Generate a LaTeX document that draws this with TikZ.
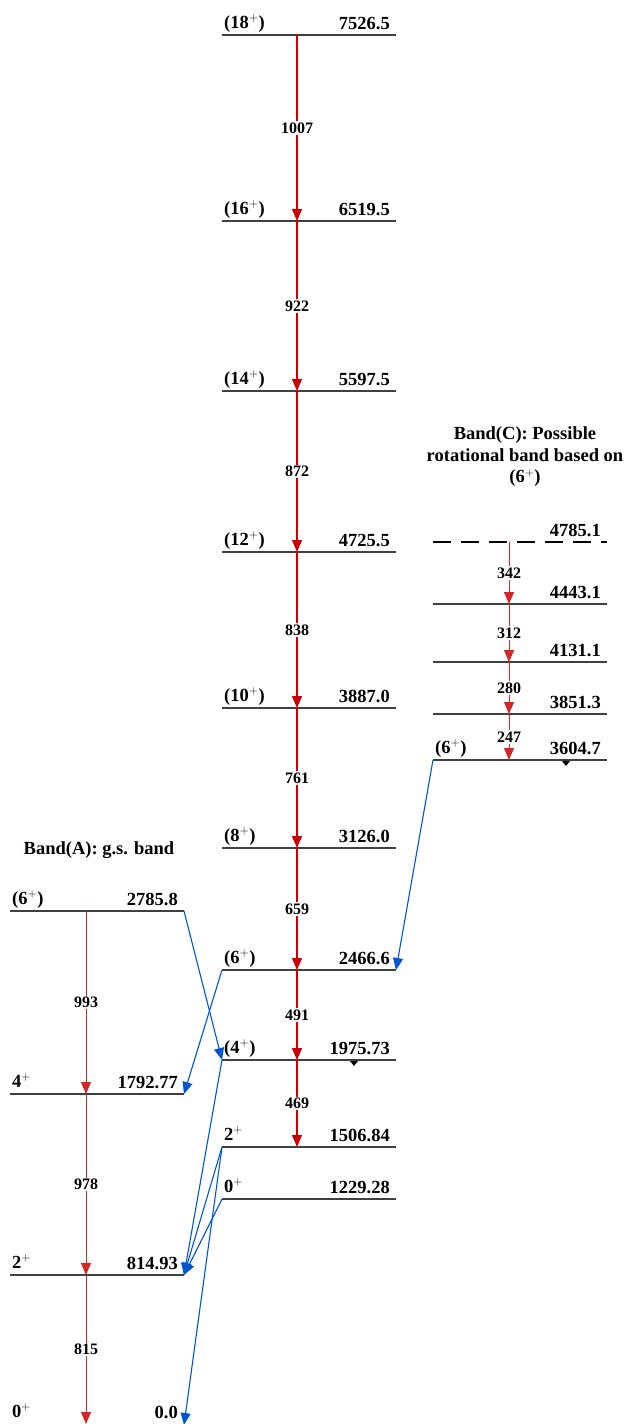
\documentclass[tikz,border=0pt]{standalone}
\usepackage{fontspec}
\setmainfont{Liberation Serif}
\usetikzlibrary{arrows.meta}
\definecolor{gred}{HTML}{CC0000}
\definecolor{gblue}{HTML}{0055D4}
\tikzset{
  lvline/.style={black!75, line width=1.2pt},
  dashlv/.style={black, line width=1.1pt, dash pattern=on 18pt off 10pt},
  elab/.style={anchor=base east, inner sep=0pt, font=\fontsize{18.5}{21}\selectfont\bfseries},
  slab/.style={anchor=base west, inner sep=0pt, font=\fontsize{18.5}{21}\selectfont\bfseries},
  gam/.style={gred, line width=1.1pt, -{Triangle[width=10pt,length=12pt]}},
  gamthin/.style={gred!85, line width=1pt, -{Triangle[width=10pt,length=12pt]}},
  glab/.style={fill=white, text=black, inner sep=1.5pt, font=\fontsize{16}{18}\selectfont\bfseries},
  blu/.style={gblue, line width=1.1pt, -{Triangle[width=10pt,length=12pt]}},
  ttl/.style={align=center, font=\fontsize{18.5}{21.5}\selectfont\bfseries}
}
% \Level{name}{xl}{xr}{y}{gamma x}{spin}{energy}
\newcommand\Level[7]{%
  \coordinate (#1-l) at (#2,#4);
  \coordinate (#1-r) at (#3,#4);
  \coordinate (#1-g) at (#5,#4);
  \draw[lvline] (#1-l) -- (#1-r);
  \node[slab] (#1-s) at (#2+2,#4-7) {#6};
  \node[elab] (#1-e) at (#3-6,#4-6) {#7};
}
\begin{document}
\begin{tikzpicture}[x=1pt,y=-1pt]
\useasboundingbox (0,0) rectangle (624,1424);
% main band
\Level{m18}{222}{396}{35}{297}{(18$^{+}$)}{7526.5}
\Level{m16}{222}{396}{221}{297}{(16$^{+}$)}{6519.5}
\Level{m14}{222}{396}{391}{297}{(14$^{+}$)}{5597.5}
\Level{m12}{222}{396}{552}{297}{(12$^{+}$)}{4725.5}
\Level{m10}{222}{396}{708}{297}{(10$^{+}$)}{3887.0}
\Level{m8}{222}{396}{848}{297}{(8$^{+}$)}{3126.0}
\Level{m6}{222}{396}{970}{297}{(6$^{+}$)}{2466.6}
\Level{m4}{222}{396}{1060}{297}{(4$^{+}$)}{1975.73}
\Level{m2}{222}{396}{1147}{297}{2$^{+}$}{1506.84}
\Level{m0}{222}{396}{1199}{297}{0$^{+}$}{1229.28}
% band A
\Level{a6}{10}{184}{911}{86}{(6$^{+}$)}{2785.8}
\Level{a4}{10}{184}{1094}{86}{4$^{+}$}{1792.77}
\Level{a2}{10}{184}{1275}{86}{2$^{+}$}{814.93}
\coordinate (a0-l) at (10,1424);
\coordinate (a0-r) at (184,1424);
\coordinate (a0-g) at (86,1424);
\node[slab] (a0-s) at (12,1417) {0$^{+}$};
\node[elab] (a0-e) at (178,1418) {0.0};
% band C
\coordinate (c48-l) at (433,542);
\coordinate (c48-r) at (607,542);
\coordinate (c48-g) at (509,542);
\draw[dashlv] (c48-l) -- (c48-r);
\node[elab] (c48-e) at (601,536) {4785.1};
\Level{c44}{433}{607}{604}{509}{}{4443.1}
\Level{c41}{433}{607}{662}{509}{}{4131.1}
\Level{c38}{433}{607}{714}{509}{}{3851.3}
\Level{c36}{433}{607}{760}{509}{(6$^{+}$)}{3604.7}
% titles
\node[ttl] (ttlA) at (99,850) {Band(A): g.s. band};
\node[ttl] (ttlC) at (525,457) {Band(C): Possible\\rotational band based on\\(6$^{+}$)};
% gamma transitions, main band
\draw[gam] (m18-g) -- node[glab]{1007} (m16-g);
\draw[gam] (m16-g) -- node[glab]{922} (m14-g);
\draw[gam] (m14-g) -- node[glab]{872} (m12-g);
\draw[gam] (m12-g) -- node[glab]{838} (m10-g);
\draw[gam] (m10-g) -- node[glab]{761} (m8-g);
\draw[gam] (m8-g) -- node[glab]{659} (m6-g);
\draw[gam] (m6-g) -- node[glab]{491} (m4-g);
\draw[gam] (m4-g) -- node[glab]{469} (m2-g);
% band A
\draw[gamthin] (a6-g) -- node[glab]{993} (a4-g);
\draw[gamthin] (a4-g) -- node[glab]{978} (a2-g);
\draw[gamthin] (a2-g) -- node[glab]{815} (a0-g);
% band C
\draw[gamthin] (c48-g) -- node[glab]{342} (c44-g);
\draw[gamthin] (c44-g) -- node[glab]{312} (c41-g);
\draw[gamthin] (c41-g) -- node[glab]{280} (c38-g);
\draw[gamthin] (c38-g) -- node[glab]{247} (c36-g);
% inter-band transitions
\draw[blu] (c36-l) -- (m6-r);
\draw[blu] (a6-r) -- (m4-l);
\draw[blu] (m6-l) -- (a4-r);
\draw[blu] (m4-l) -- (a2-r);
\draw[blu] (m2-l) -- (a2-r);
\draw[blu] (m0-l) -- (a2-r);
\draw[blu] (m2-l) -- ([yshift=-1pt]a0-r);
% small markers
\fill[black] (562,761) -- (570,761) -- (566,766) -- cycle;
\fill[black] (350,1061) -- (358,1061) -- (354,1066) -- cycle;
\end{tikzpicture}
\end{document}
